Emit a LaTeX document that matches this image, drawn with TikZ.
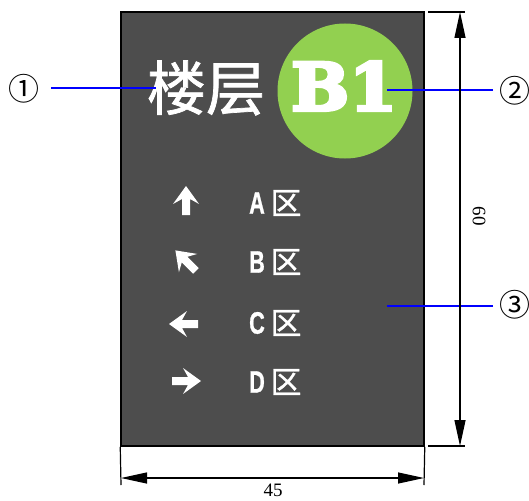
\documentclass[tikz,border=0pt]{standalone}
\usepackage{fontspec}
\setmainfont{Liberation Serif}
\newfontfamily\cjkfont{Noto Sans CJK SC}
\newfontfamily\zonecjkfont[FakeBold=1.2]{Noto Sans CJK SC}
\newfontfamily\titlefont[FakeBold=1.2]{Noto Sans CJK SC}
\newfontfamily\zonefont[FakeBold=1]{Liberation Sans Bold}
\newfontfamily\floorfont[FakeBold=5]{DejaVu Serif Bold}
\usetikzlibrary{arrows.meta}
\definecolor{panelgray}{HTML}{4D4D4D}
\definecolor{floorgreen}{HTML}{92D050}
\tikzset{
  numlabel/.style={inner xsep=6pt, inner ysep=0pt, font=\cjkfont\fontsize{31}{31}\selectfont},
  leader/.style={blue, line width=1.4pt},
  dimline/.style={black, line width=1.2pt},
  dimarrow/.style={dimline, {Triangle[length=26pt,width=11pt]}-{Triangle[length=26pt,width=11pt]}},
  zoneletter/.style={white, inner sep=0pt, xscale=0.7, font=\zonefont\fontsize{31}{31}\selectfont},
  zonechar/.style={white, inner sep=0pt, font=\zonecjkfont\fontsize{31}{31}\selectfont},
  signarrow/.style={white}
}
\begin{document}
\begin{tikzpicture}[x=1pt,y=-1pt]
  \useasboundingbox (0,0) rectangle (529,500);
  % panel and floor disc
  \node[draw=black, line width=1.5pt, fill=panelgray, minimum width=303pt, minimum height=434pt, inner sep=0pt] (panel) at (272.5,229) {};
  \node[circle, fill=floorgreen, minimum size=135pt, inner sep=0pt] (disc) at (345,91) {};
  \node[white, inner sep=0pt, font=\titlefont\fontsize{59}{59}\selectfont] (title) at (206,88) {楼层};
  \node[white, inner sep=0pt, xscale=1.04, font=\floorfont\fontsize{66}{66}\selectfont] (floor) at (344,86) {B1};
  % zones
  \foreach \zone/\posy/\ang/\ax/\ay in {A/203/0/186/201, B/262/45/186/261, C/323/90/184/324, D/382/-90/186/381} {
    \fill[signarrow, shift={(\ax,\ay)}, rotate=\ang] (0,-15) -- (13,3) -- (4,-2) -- (4,14) -- (-4,14) -- (-4,-2) -- (-13,3) -- cycle;
    \node[zoneletter] (letter\zone) at (257,\posy) {\zone};
    \node[zonechar] (char\zone) at (286,\posy) {区};
  }
  % callouts
  \node[numlabel, anchor=east, inner xsep=11pt] (num1) at (51,89) {①};
  \node[numlabel, anchor=west] (num2) at (493,91) {②};
  \node[numlabel, anchor=west] (num3) at (493,305) {③};
  \coordinate (end1) at (156,88);
  \coordinate (end2) at (387,90);
  \coordinate (end3) at (387,306);
  \draw[leader] (num1.east |- end1) -- (end1);
  \draw[leader] (num2.west |- end2) -- (end2);
  \draw[leader] (num3.west |- end3) -- (end3);
  % dimensions
  \coordinate (rtop) at (428,12);
  \coordinate (rtopend) at (465,12);
  \coordinate (rbot) at (428,446);
  \coordinate (rbotend) at (465,446);
  \coordinate (ltick) at (121,485);
  \coordinate (rtick) at (424,485);
  \draw[dimline] (rtop) -- (rtopend);
  \draw[dimline] (rbot) -- (rbotend);
  \draw[dimline] (panel.south west) -- (ltick);
  \draw[dimline] (panel.south east) -- (rtick);
  \coordinate (vtop) at (460,12);
  \coordinate (vbot) at (460,446);
  \coordinate (hleft) at (121,478);
  \coordinate (hright) at (424,478);
  \draw[dimarrow] (vtop) -- (vbot);
  \draw[dimarrow] (hleft) -- (hright);
  \node[inner sep=0pt, font=\fontsize{19}{19}\selectfont, rotate=-90] (dimsixty) at (479,216) {60};
  \node[inner sep=0pt, font=\fontsize{19}{19}\selectfont] (dimfortyfive) at (273,490) {45};
\end{tikzpicture}
\end{document}
